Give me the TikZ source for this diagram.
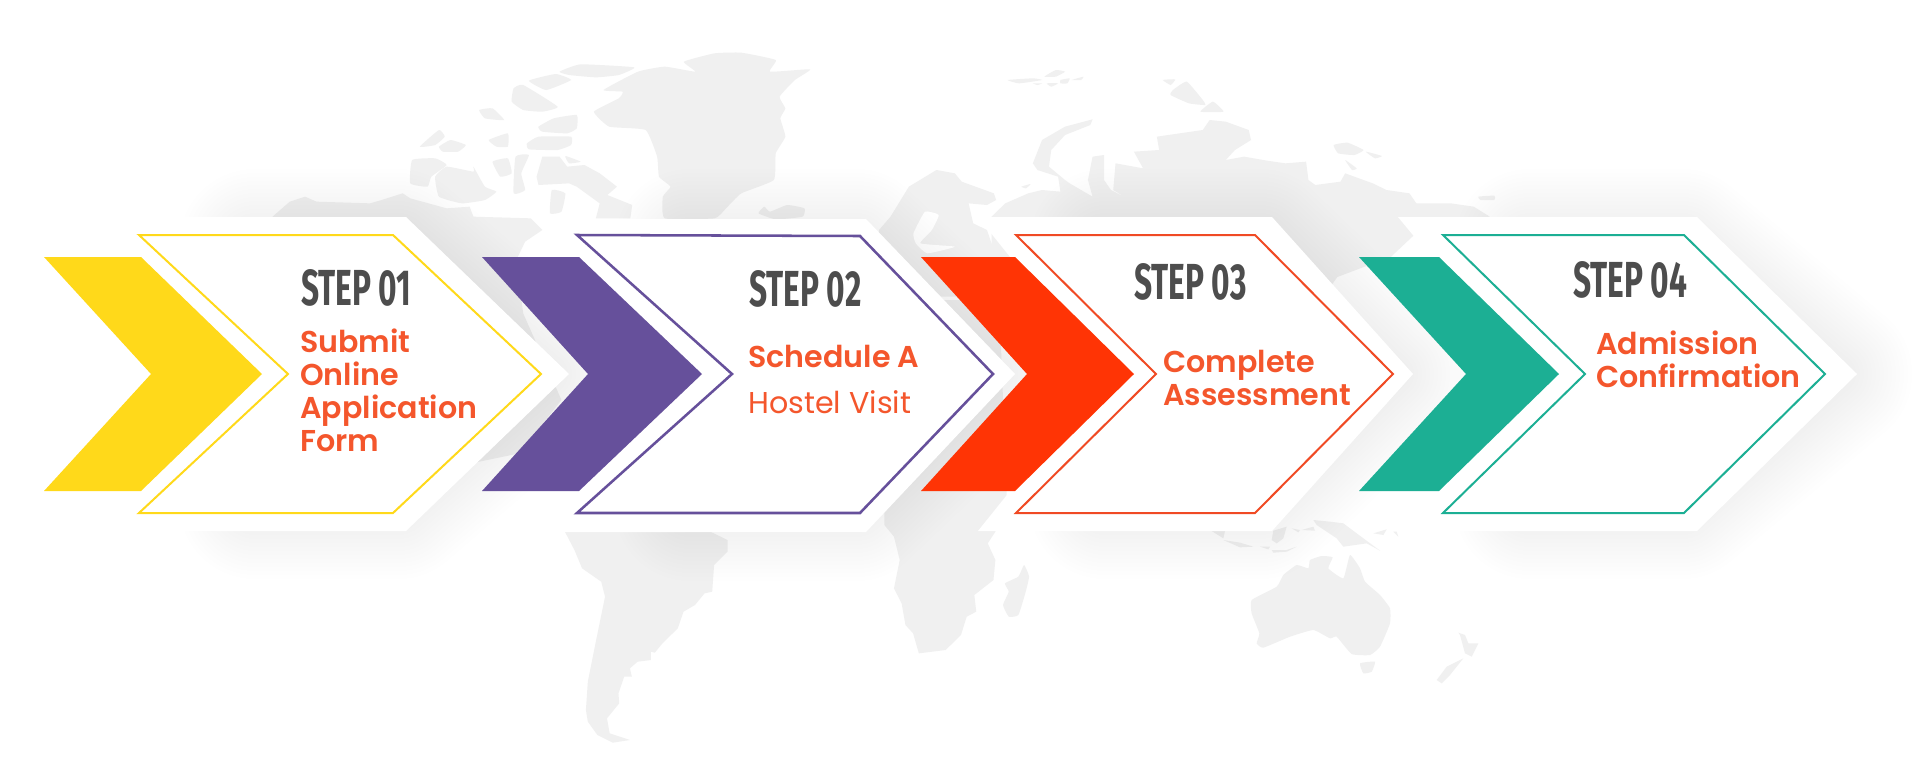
\documentclass[tikz,border=0pt]{standalone}
\usepackage{fontspec}
\setmainfont{Poppins}[BoldFont=Poppins SemiBold]
\newfontfamily\stepfont[FakeStretch=0.625]{Fira Sans}
\definecolor{sunyellow}{HTML}{FFD91A}
\definecolor{grape}{HTML}{66509B}
\definecolor{flame}{HTML}{FF3405}
\definecolor{teal}{HTML}{1CAF94}
\definecolor{linered}{HTML}{F04A24}
\definecolor{inkgray}{HTML}{4D4D4D}
\definecolor{labelred}{HTML}{F4562C}
\definecolor{landgray}{HTML}{F0F0F0}
\tikzset{
  landmass/.style={fill=landgray},
  mapnorth/.style={shift={(240,30)},x=0.287pt,y=-0.25pt},
  mapeast/.style={shift={(840,30)},x=0.3444pt,y=-0.25pt},
  mapsouth/.style={shift={(540,500)},x=0.287pt,y=-0.25pt},
  mapocean/.style={shift={(1140,500)},x=0.25pt,y=-0.25pt},
  softshadow/.style={fill=black,draw=black,opacity=0.0048,line join=round},
  whitechevron/.style={fill=white},
  thinchevron/.style={line width=1.5pt,line join=miter},
  steptitle/.style={anchor=west,inner sep=0pt,text=inkgray,font=\stepfont\bfseries\fontsize{38}{38}\selectfont},
  steplabel/.style={anchor=north west,inner sep=0pt,align=left,text=labelred,font=\bfseries\fontsize{22.6}{24.6}\selectfont}
}
\begin{document}
\begin{tikzpicture}[x=0.75pt,y=-0.75pt]
    \useasboundingbox (0,0) rectangle (1920,765);
    \fill[white] (0,0) rectangle (1920,765);
    % world map behind the arrows
    \begin{scope}[mapnorth]
      \fill[landmass] plot[smooth cycle,tension=0.25] coordinates {(1160,95) (1240,70) (1310,68) (1400,90) (1385,125) (1490,118) (1450,150) (1410,200) (1425,235) (1412,265) (1425,320) (1400,370) (1395,450) (1310,490) (1270,535) (1240,565) (1110,565) (1105,500) (1125,470) (1095,440) (1090,380) (1060,300) (965,290) (925,245) (990,205) (1000,185) (950,180) (1040,125) (1110,110) (1190,125)};
      \fill[landmass] plot coordinates {(85,560) (130,515) (170,500) (200,515) (340,520) (370,510) (425,490) (445,505) (540,535) (600,530) (610,560) (760,565) (790,600) (745,635) (722,690) (740,850) (840,1110) (730,1270) (520,1320) (420,1100) (85,800)};
      \fill[landmass] plot[smooth cycle,tension=0.25] coordinates {(835,125) (890,103) (1030,112) (990,135) (930,142) (860,135)};
      \fill[landmass] plot[smooth cycle,tension=0.25] coordinates {(755,152) (825,132) (865,150) (800,180)};
      \fill[landmass] plot[smooth cycle,tension=0.25] coordinates {(715,175) (740,165) (830,230) (790,245) (740,240) (710,215)};
      \fill[landmass] plot[smooth cycle,tension=0.25] coordinates {(780,290) (820,265) (880,255) (880,295) (855,310) (790,305)};
      \fill[landmass] plot[smooth cycle,tension=0.25] coordinates {(625,240) (660,235) (690,270) (640,265)};
      \fill[landmass] plot[smooth cycle,tension=0.25] coordinates {(750,340) (780,320) (865,320) (865,345) (830,360) (755,358)};
      \fill[landmass] plot[smooth cycle,tension=0.25] coordinates {(470,350) (520,300) (535,320) (510,345)};
      \fill[landmass] plot[smooth cycle,tension=0.25] coordinates {(520,350) (550,330) (590,345) (570,365) (530,365)};
      \fill[landmass] plot[smooth cycle,tension=0.25] coordinates {(650,330) (700,310) (700,350) (670,350)};
      \fill[landmass] plot[smooth cycle,tension=0.25] coordinates {(450,390) (510,385) (540,405) (500,440) (490,470) (445,460)};
      \fill[landmass] plot[smooth cycle,tension=0.25] coordinates {(510,440) (540,410) (610,425) (610,410) (640,470) (670,485) (640,510) (580,520) (520,500)};
      \fill[landmass] plot[smooth cycle,tension=0.25] coordinates {(660,395) (700,385) (710,430) (680,440)};
      \fill[landmass] plot[smooth cycle,tension=0.25] coordinates {(720,380) (755,375) (735,430) (745,480) (715,490)};
      \fill[landmass] plot coordinates {(775,440) (790,380) (835,380) (855,410) (900,405) (940,430) (985,470) (960,495) (1025,525) (1020,565) (930,565) (940,520) (880,470) (860,460) (780,465)};
      \fill[landmass] plot[smooth cycle,tension=0.25] coordinates {(850,378) (890,395) (860,400)};
      \fill[landmass] plot[smooth cycle,tension=0.25] coordinates {(815,480) (850,490) (840,545) (810,550)};
      \fill[landmass] plot[smooth cycle,tension=0.25] coordinates {(1355,550) (1370,530) (1385,545) (1430,525) (1475,535) (1470,560) (1400,568)};
    \end{scope}
    \begin{scope}[mapeast]
      \fill[landmass] plot coordinates {(85,600) (110,560) (150,470) (210,420) (250,430) (265,455) (335,490) (340,510) (320,525) (280,520) (290,580) (320,600) (340,680) (340,800) (80,800)};
      \fill[white] plot[smooth cycle,tension=0.25] coordinates {(185,545) (215,555) (200,600) (175,640) (250,650) (190,670) (165,640) (160,610)};
      \fill[landmass] plot coordinates {(330,560) (360,520) (410,490) (440,480) (480,485) (475,440) (430,420) (420,400) (440,330) (490,290) (550,268) (545,285) (490,315) (460,360) (455,410) (490,450) (500,460) (550,500) (540,450) (550,380) (575,375) (575,450) (590,480) (625,505) (595,480) (600,400) (660,415) (640,365) (695,360) (690,320) (790,300) (805,270) (840,275) (890,300) (895,330) (860,360) (840,390) (880,380) (930,392) (970,400) (1015,395) (1020,450) (1035,465) (1090,455) (1100,430) (1160,460) (1190,480) (1240,490) (1255,520) (1330,520) (1380,530) (1415,560) (1285,570) (1200,680) (1083,741) (1000,900) (330,900)};
      \fill[landmass] plot[smooth cycle,tension=0.25] coordinates {(365,150) (420,145) (440,150) (390,160)};
      \fill[landmass] plot[smooth cycle,tension=0.25] coordinates {(445,140) (470,120) (490,125) (470,140)};
      \fill[landmass] plot[smooth cycle,tension=0.25] coordinates {(480,150) (500,145) (495,160) (480,160)};
      \fill[landmass] plot[smooth cycle,tension=0.25] coordinates {(505,150) (530,140) (525,150)};
      \fill[landmass] plot[smooth cycle,tension=0.25] coordinates {(420,160) (440,160) (430,165)};
      \fill[landmass] plot[smooth cycle,tension=0.25] coordinates {(450,160) (475,160) (460,170)};
      \fill[landmass] plot[smooth cycle,tension=0.25] coordinates {(725,180) (755,155) (790,210) (795,225) (760,220) (720,195)};
      \fill[landmass] plot[smooth cycle,tension=0.25] coordinates {(785,245) (812,215) (835,245)};
      \fill[landmass] plot[smooth cycle,tension=0.25] coordinates {(703,150) (730,148) (720,165)};
      \fill[landmass] plot[smooth cycle,tension=0.25] coordinates {(1075,345) (1105,338) (1140,360) (1120,375) (1085,370)};
      \fill[landmass] plot[smooth cycle,tension=0.25] coordinates {(1145,365) (1180,378) (1165,385)};
      \fill[landmass] plot[smooth cycle,tension=0.25] coordinates {(1100,390) (1125,415) (1115,420)};
      \fill[landmass] plot[smooth cycle,tension=0.25] coordinates {(1390,500) (1425,497) (1425,510) (1395,510)};
      \fill[landmass] plot[smooth cycle,tension=0.25] coordinates {(395,470) (415,462) (405,475)};
    \end{scope}
    \begin{scope}[mapsouth]
      \fill[landmass] plot coordinates {(65,95) (445,95) (490,120) (490,155) (455,195) (450,275) (430,280) (405,315) (375,335) (360,385) (320,430) (300,458) (290,455) (290,480) (255,485) (235,505) (240,530) (220,530) (205,580) (207,610) (175,655) (182,700) (235,720) (190,728) (150,705) (125,665) (120,630) (125,545) (145,430) (170,290) (160,245) (110,205) (90,150)};
      \fill[landmass] plot coordinates {(840,-600) (900,40) (900,75) (925,110) (940,180) (925,265) (945,310) (955,375) (975,400) (990,460) (1060,450) (1100,405) (1115,350) (1140,335) (1135,285) (1185,240) (1190,180) (1170,130) (1190,95) (1220,0) (1200,-600)};
      \fill[landmass] plot[smooth cycle,tension=0.25] coordinates {(1265,195) (1278,230) (1268,280) (1250,345) (1225,350) (1210,315) (1225,275) (1215,250) (1250,230)};
    \end{scope}
    \begin{scope}[mapocean]
      \fill[landmass] plot[smooth cycle,tension=0.25] coordinates {(335,300) (410,260) (430,225) (470,195) (505,205) (510,180) (545,168) (578,172) (565,205) (610,235) (630,165) (660,205) (675,245) (720,285) (750,325) (750,370) (720,440) (690,465) (635,462) (590,410) (570,415) (520,390) (450,410) (370,443) (350,430) (358,400) (335,340)};
      \fill[landmass] plot[smooth cycle,tension=0.25] coordinates {(660,490) (705,485) (695,515) (670,520)};
      \fill[landmass] plot coordinates {(955,398) (975,405) (985,430) (1015,430) (995,470) (975,460) (960,405)};
      \fill[landmass] plot coordinates {(970,475) (930,525) (905,550) (890,540) (920,500)};
      \fill[landmass] plot coordinates {(520,60) (570,65) (610,70) (650,100) (720,152) (680,130) (610,140) (590,115) (530,75)};
      \fill[landmass] plot coordinates {(215,93) (255,93) (250,115)};
      \fill[landmass] plot coordinates {(250,120) (300,128) (340,140) (300,142)};
      \fill[landmass] plot coordinates {(400,92) (440,80) (430,115) (410,130) (395,120)};
      \fill[landmass] plot coordinates {(360,140) (390,140) (385,148)};
      \fill[landmass] plot coordinates {(395,150) (440,150) (470,140) (440,155) (400,158)};
      \fill[landmass] plot coordinates {(455,85) (480,90) (475,97)};
      \fill[landmass] plot coordinates {(485,90) (520,80) (525,92)};
      \fill[landmass] plot coordinates {(700,100) (740,88) (730,105)};
      \fill[landmass] plot coordinates {(760,95) (770,95) (775,110)};
    \end{scope}
    % soft shadows
    \foreach \w in {6,12,...,114} {
      \path[softshadow,line width=\w pt] (255,245) -- (398,245) -- (548,374) -- (398,503) -- (255,503) -- cycle;
      \path[softshadow,line width=\w pt] (690,245) -- (856,245) -- (994,374) -- (856,505) -- (690,505) -- cycle;
      \path[softshadow,line width=\w pt] (1105,245) -- (1260,245) -- (1394,374) -- (1260,503) -- (1105,503) -- cycle;
      \path[softshadow,line width=\w pt] (1530,245) -- (1682,245) -- (1836,374) -- (1682,503) -- (1530,503) -- cycle;
    }
    % white chevrons
    \fill[whitechevron] (128,217) -- (406,217) -- (569,374) -- (406,531) -- (128,531) -- (232,374) -- cycle;
    \fill[whitechevron] (563,219) -- (866,219) -- (1015,374) -- (866,532) -- (563,532) -- (675,374) -- cycle;
    \fill[whitechevron] (978,217) -- (1272,217) -- (1413,374) -- (1272,531) -- (978,531) -- (1104,374) -- cycle;
    \fill[whitechevron] (1398,217) -- (1697,217) -- (1857,374) -- (1697,531) -- (1398,531) -- (1528,374) -- cycle;
    % solid chevrons
    \fill[sunyellow] (44,257) -- (141,257) -- (262,374) -- (141,491) -- (44,491) -- (151,374) -- cycle;
    \fill[grape] (482,257) -- (579,257) -- (702,374) -- (579,491) -- (482,491) -- (588,374) -- cycle;
    \fill[flame] (921,257) -- (1015,257) -- (1134,374) -- (1015,491) -- (921,491) -- (1027,374) -- cycle;
    \fill[teal] (1359,257) -- (1439,257) -- (1559,374) -- (1439,491) -- (1359,491) -- (1466,374) -- cycle;
    % thin outlines
    \draw[thinchevron,sunyellow] (139,235) -- (393,235) -- (541,374) -- (393,513) -- (139,513) -- (288,374) -- cycle;
    \draw[thinchevron,grape,line width=1.9pt] (577,235) -- (860,236) -- (993,374) -- (860,513) -- (577,513) -- (732,374) -- cycle;
    \draw[thinchevron,linered] (1016,235) -- (1255,235) -- (1393,374) -- (1255,513) -- (1016,513) -- (1156,374) -- cycle;
    \draw[thinchevron,teal] (1443,235) -- (1684,235) -- (1825,374) -- (1684,513) -- (1443,513) -- (1585,374) -- cycle;
    % texts
    \node [steptitle] (title1) at (301,288) {STEP 01};
    \node [steptitle] (title2) at (749,289) {STEP 02};
    \node [steptitle] (title3) at (1134,282) {STEP 03};
    \node [steptitle] (title4) at (1573,280) {STEP 04};
    \node [steplabel] (label1) at (300,329) {Submit\\Online\\Application\\Form};
    \node [steplabel] (label2) at (748,345) {Schedule A\\[10pt]{\mdseries Hostel Visit}};
    \node [steplabel] (label3) at (1163,350) {Complete\\Assessment};
    \node [steplabel] (label4) at (1596,331) {Admission\\Confirmation};
\end{tikzpicture}
\end{document}
